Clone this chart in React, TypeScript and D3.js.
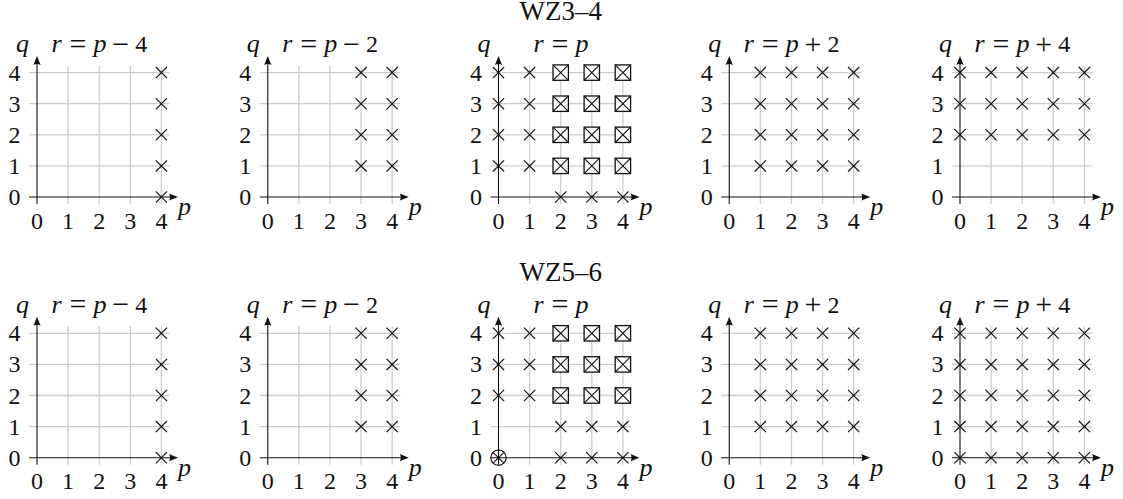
import React from "react";
import * as d3 from "d3";

// Row titles and per-panel relation offsets (r = p + offset)
const rowTitles = ["WZ3–4", "WZ5–6"];
const relationOffsets = [-4, -2, 0, 2, 4];
const pTicks = [0, 1, 2, 3, 4];
const qTicks = [0, 1, 2, 3, 4];

type Pt = [number, number];

// WZ3–4: plain crosses, boxed crosses, circled crosses per panel
const wz34Crosses: Pt[][] = [
  [[4, 0], [4, 1], [4, 2], [4, 3], [4, 4]],
  [[3, 1], [3, 2], [3, 3], [3, 4], [4, 1], [4, 2], [4, 3], [4, 4]],
  [[0, 1], [0, 2], [0, 3], [0, 4], [1, 1], [1, 2], [1, 3], [1, 4], [2, 0], [3, 0], [4, 0]],
  [[1, 1], [1, 2], [1, 3], [1, 4], [2, 1], [2, 2], [2, 3], [2, 4], [3, 1], [3, 2], [3, 3], [3, 4], [4, 1], [4, 2], [4, 3], [4, 4]],
  [[0, 2], [0, 3], [0, 4], [1, 2], [1, 3], [1, 4], [2, 2], [2, 3], [2, 4], [3, 2], [3, 3], [3, 4], [4, 2], [4, 3], [4, 4]],
];
const wz34Boxes: Pt[][] = [
  [],
  [],
  [[2, 1], [2, 2], [2, 3], [2, 4], [3, 1], [3, 2], [3, 3], [3, 4], [4, 1], [4, 2], [4, 3], [4, 4]],
  [],
  [],
];
const wz34Circles: Pt[][] = [[], [], [], [], []];

// WZ5–6
const wz56Crosses: Pt[][] = [
  [[4, 0], [4, 1], [4, 2], [4, 3], [4, 4]],
  [[3, 1], [3, 2], [3, 3], [3, 4], [4, 1], [4, 2], [4, 3], [4, 4]],
  [[0, 2], [0, 3], [0, 4], [1, 2], [1, 3], [1, 4], [2, 0], [3, 0], [4, 0], [2, 1], [3, 1], [4, 1]],
  [[1, 1], [1, 2], [1, 3], [1, 4], [2, 1], [2, 2], [2, 3], [2, 4], [3, 1], [3, 2], [3, 3], [3, 4], [4, 1], [4, 2], [4, 3], [4, 4]],
  [[0, 0], [0, 1], [0, 2], [0, 3], [0, 4], [1, 0], [1, 1], [1, 2], [1, 3], [1, 4], [2, 0], [2, 1], [2, 2], [2, 3], [2, 4], [3, 0], [3, 1], [3, 2], [3, 3], [3, 4], [4, 0], [4, 1], [4, 2], [4, 3], [4, 4]],
];
const wz56Boxes: Pt[][] = [
  [],
  [],
  [[2, 2], [2, 3], [2, 4], [3, 2], [3, 3], [3, 4], [4, 2], [4, 3], [4, 4]],
  [],
  [],
];
const wz56Circles: Pt[][] = [[], [], [[0, 0]], [], []];

const rows = [
  { title: rowTitles[0], crosses: wz34Crosses, boxes: wz34Boxes, circles: wz34Circles },
  { title: rowTitles[1], crosses: wz56Crosses, boxes: wz56Boxes, circles: wz56Circles },
];

const W = 1123;
const H = 499;
const FONT = "Liberation Serif";
const UNIT = 31.1; // one grid step
const TICK_SIZE = 24;
const TITLE_SIZE = 27;
const INK = "#111";

// panel origin placement
const colScale = d3.scalePoint<number>().domain([0, 1, 2, 3, 4]).range([37, 960]);
const rowScale = d3.scalePoint<number>().domain([0, 1]).range([197, 457.7]);

// advance widths (em) used for math label layout
const advance: Record<string, number> = {
  r: 0.451, p: 0.503, q: 0.46, "=": 0.778, "−": 0.778, "+": 0.778,
};
const THICK = 0.2778;
const MED = 0.2222;

function Txt(props: any) {
  const { italic, children, ...rest } = props;
  return (
    <text
      {...rest}
      fontFamily={FONT}
      fontStyle={italic ? "italic" : "normal"}
      style={{ fontFamily: '"Liberation Serif", "Times New Roman", serif', fontStyle: italic ? "italic" : "normal" }}
      fill={INK}
    >
      {children}
    </text>
  );
}

function MathLabel({ tokens, cx, y, size }: { tokens: string[]; cx: number; y: number; size: number }) {
  const slots: { t: string; x: number; w: number }[] = [];
  let x = 0;
  tokens.forEach((t) => {
    const isRel = t === "=";
    const isBin = t === "−" || t === "+";
    const pad = isRel ? THICK : isBin ? MED : 0;
    x += pad;
    const w = advance[t] ?? 0.5;
    slots.push({ t, x, w });
    x += w + pad;
  });
  const em = 24;
  const x0 = cx - (x * em) / 2;
  return (
    <g>
      {slots.map((s, i) => {
        const italic = /[a-z]/.test(s.t);
        const op = s.t === "=" || s.t === "−" || s.t === "+";
        return (
          <Txt
            key={i}
            x={x0 + (s.x + s.w / 2) * em}
            y={y}
            textAnchor="middle"
            italic={italic}
            fontSize={op ? size * 1.25 : italic ? size + 2 : size}
            dy={op ? 1.5 : 0}
          >
            {s.t}
          </Txt>
        );
      })}
    </g>
  );
}

function Panel({ col, row, offset, crosses, boxes, circles }: {
  col: number; row: number; offset: number; crosses: Pt[]; boxes: Pt[]; circles: Pt[];
}) {
  const ox = colScale(col)!;
  const oy = rowScale(row)!;
  const x = d3.scaleLinear().domain([0, 4]).range([ox, ox + 4 * UNIT]);
  const y = d3.scaleLinear().domain([0, 4]).range([oy, oy - 4 * UNIT]);

  const tokens = ["r", "=", "p"];
  if (offset !== 0) tokens.push(offset < 0 ? "−" : "+", String(Math.abs(offset)));

  const xTip = ox + 141;
  const yTip = oy - 141;
  const cr = 5.6;
  const bh = 7.7;

  return (
    <g>
      {/* grid */}
      {qTicks.slice(1).map((q) => (
        <line key={"h" + q} x1={ox - 8} x2={x(4) + 8} y1={y(q)} y2={y(q)} stroke="#cdcdcd" strokeWidth={1.3} />
      ))}
      {pTicks.slice(1).map((p) => (
        <line key={"v" + p} x1={x(p)} x2={x(p)} y1={oy + 7} y2={y(4) - 7} stroke="#cdcdcd" strokeWidth={1.3} />
      ))}
      {/* axes */}
      <line x1={ox - 8} x2={xTip - 4} y1={oy} y2={oy} stroke={INK} strokeWidth={1.1} />
      <line x1={ox} x2={ox} y1={oy + 7} y2={yTip + 4} stroke={INK} strokeWidth={1.1} />
      <path d={`M${xTip},${oy} L${xTip - 9},${oy - 3.6} Q${xTip - 7},${oy} ${xTip - 9},${oy + 3.6} Z`} fill={INK} />
      <path d={`M${ox},${yTip} L${ox - 3.6},${yTip + 9} Q${ox},${yTip + 7} ${ox + 3.6},${yTip + 9} Z`} fill={INK} />
      {/* tick labels */}
      {pTicks.map((p) => (
        <Txt key={"xt" + p} x={x(p)} y={oy + 31.5} textAnchor="middle" fontSize={TICK_SIZE}>
          {String(p)}
        </Txt>
      ))}
      {qTicks.map((q) => (
        <Txt key={"yt" + q} x={ox - 22.5} y={y(q) + 8} textAnchor="middle" fontSize={TICK_SIZE}>
          {String(q)}
        </Txt>
      ))}
      {/* axis names */}
      <Txt x={ox + 147.5} y={oy + 18} textAnchor="middle" italic fontSize={TICK_SIZE + 2}>p</Txt>
      <Txt x={ox - 14.5} y={oy - 145} textAnchor="middle" italic fontSize={TICK_SIZE + 2}>q</Txt>
      {/* relation label */}
      <MathLabel tokens={tokens} cx={x(2)} y={oy - 145} size={TICK_SIZE} />
      {/* boxed marks */}
      {boxes.map(([p, q], i) => (
        <g key={"b" + i} transform={`translate(${x(p)},${y(q)})`}>
          <rect x={-bh} y={-bh} width={2 * bh} height={2 * bh} fill="#fff" stroke={INK} strokeWidth={1.3} />
          <path d={`M${-bh},${-bh}L${bh},${bh}M${-bh},${bh}L${bh},${-bh}`} stroke={INK} strokeWidth={1.1} />
        </g>
      ))}
      {/* circled marks */}
      {circles.map(([p, q], i) => (
        <g key={"c" + i} transform={`translate(${x(p)},${y(q)})`}>
          <circle r={7.7} fill="none" stroke={INK} strokeWidth={1.1} />
          <path d={`M-5.4,-5.4L5.4,5.4M-5.4,5.4L5.4,-5.4`} stroke={INK} strokeWidth={1.1} />
        </g>
      ))}
      {/* cross marks */}
      {crosses.map(([p, q], i) => (
        <path
          key={"x" + i}
          d={`M${x(p) - cr},${y(q) - cr}L${x(p) + cr},${y(q) + cr}M${x(p) - cr},${y(q) + cr}L${x(p) + cr},${y(q) - cr}`}
          stroke={INK}
          strokeWidth={1.2}
        />
      ))}
    </g>
  );
}

export default function App() {
  return (
    <svg
      width={W}
      height={H}
      fontFamily={FONT}
      style={{ position: "absolute", left: 0, top: 0, fontFamily: '"Liberation Serif", "Times New Roman", serif' }}
    >
      <rect width={W} height={H} fill="#fff" />
      {rows.map((r, ri) => (
        <g key={ri}>
          <Txt x={colScale(2)! + 2 * UNIT} y={rowScale(ri)! - 177} textAnchor="middle" fontSize={TITLE_SIZE}>
            {r.title}
          </Txt>
          {relationOffsets.map((off, ci) => (
            <Panel key={ci} col={ci} row={ri} offset={off} crosses={r.crosses[ci]} boxes={r.boxes[ci]} circles={r.circles[ci]} />
          ))}
        </g>
      ))}
    </svg>
  );
}
